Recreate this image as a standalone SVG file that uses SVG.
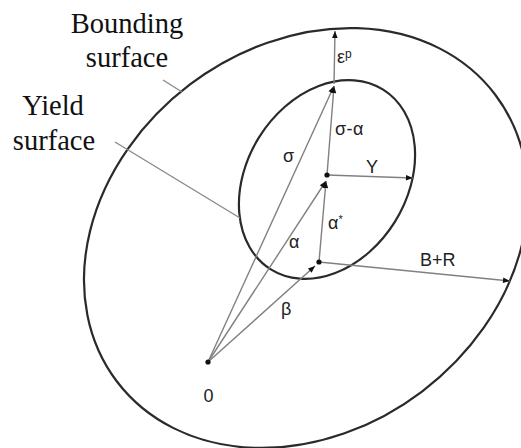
<svg xmlns="http://www.w3.org/2000/svg" width="521" height="448" viewBox="0 0 521 448">
<style>
.surf{fill:none;stroke:#2a2a2a;stroke-width:2.2}
.vec{fill:none;stroke:#808080;stroke-width:1.4}
.lead{fill:none;stroke:#8a8a8a;stroke-width:1.4}
.dot{fill:#111}
.lbl{font-family:"Liberation Sans",Arial,sans-serif;font-size:18px;fill:#222}
.ser{font-family:"Liberation Serif","Times New Roman",serif;font-size:28.5px;fill:#111}
</style>
<defs>
<marker id="ah" viewBox="0 0 10 10" refX="10" refY="5" markerWidth="8" markerHeight="7" orient="auto" markerUnits="userSpaceOnUse">
<path d="M0,1 L10,5 L0,9 z" fill="#111"/>
</marker>
</defs>
<rect width="521" height="448" fill="#fff"/>
<g id="bounding-surface">
<ellipse class="surf" cx="306" cy="238" rx="237.4" ry="192.4" transform="rotate(-37.2 306 238)"/>
</g>
<g id="yield-surface">
<ellipse class="surf" cx="327" cy="179.5" rx="80" ry="106" transform="rotate(32 327 179.5)"/>
</g>
<g id="connectors">
<line class="lead" x1="163" y1="80" x2="182" y2="92"/>
<line class="lead" x1="115" y1="142" x2="240" y2="218"/>
<line class="vec" x1="208" y1="362" x2="334" y2="86" marker-end="url(#ah)"/>
<line class="vec" x1="208" y1="362" x2="326" y2="181" marker-end="url(#ah)"/>
<line class="vec" x1="208" y1="362" x2="315" y2="266" marker-end="url(#ah)"/>
<line class="vec" x1="319" y1="262" x2="326" y2="181" marker-end="url(#ah)"/>
<line class="vec" x1="327" y1="175" x2="334" y2="86" marker-end="url(#ah)"/>
<line class="vec" x1="334" y1="84" x2="335" y2="31" marker-end="url(#ah)"/>
<line class="vec" x1="327" y1="175" x2="413" y2="178" marker-end="url(#ah)"/>
<line class="vec" x1="319" y1="262" x2="510" y2="281" marker-end="url(#ah)"/>
</g>
<g id="point-origin">
<circle class="dot" cx="208" cy="362" r="2.6"/>
<text class="lbl" x="208.5" y="402" text-anchor="middle" font-size="19">0</text>
</g>
<g id="point-beta">
<circle class="dot" cx="319" cy="262" r="2.6"/>
</g>
<g id="point-alpha">
<circle class="dot" cx="327" cy="175" r="2.6"/>
</g>
<g id="labels">
<text class="lbl" x="337" y="63">ε<tspan font-size="12" dy="-5">p</tspan></text>
<text class="lbl" x="335" y="135" letter-spacing="0.5">σ-α</text>
<text class="lbl" x="283" y="162">σ</text>
<text class="lbl" x="366" y="173">Y</text>
<text class="lbl" x="328" y="229">α<tspan font-size="11" dy="-6">*</tspan></text>
<text class="lbl" x="289" y="248">α</text>
<text class="lbl" x="281" y="315">β</text>
<text class="lbl" x="420" y="266">B+R</text>
</g>
<g id="label-bounding">
<text class="ser" x="127" y="33" text-anchor="middle">Bounding</text>
<text class="ser" x="127" y="67" text-anchor="middle">surface</text>
</g>
<g id="label-yield">
<text class="ser" x="53" y="115" text-anchor="middle">Yield</text>
<text class="ser" x="54" y="150" text-anchor="middle">surface</text>
</g>
</svg>
